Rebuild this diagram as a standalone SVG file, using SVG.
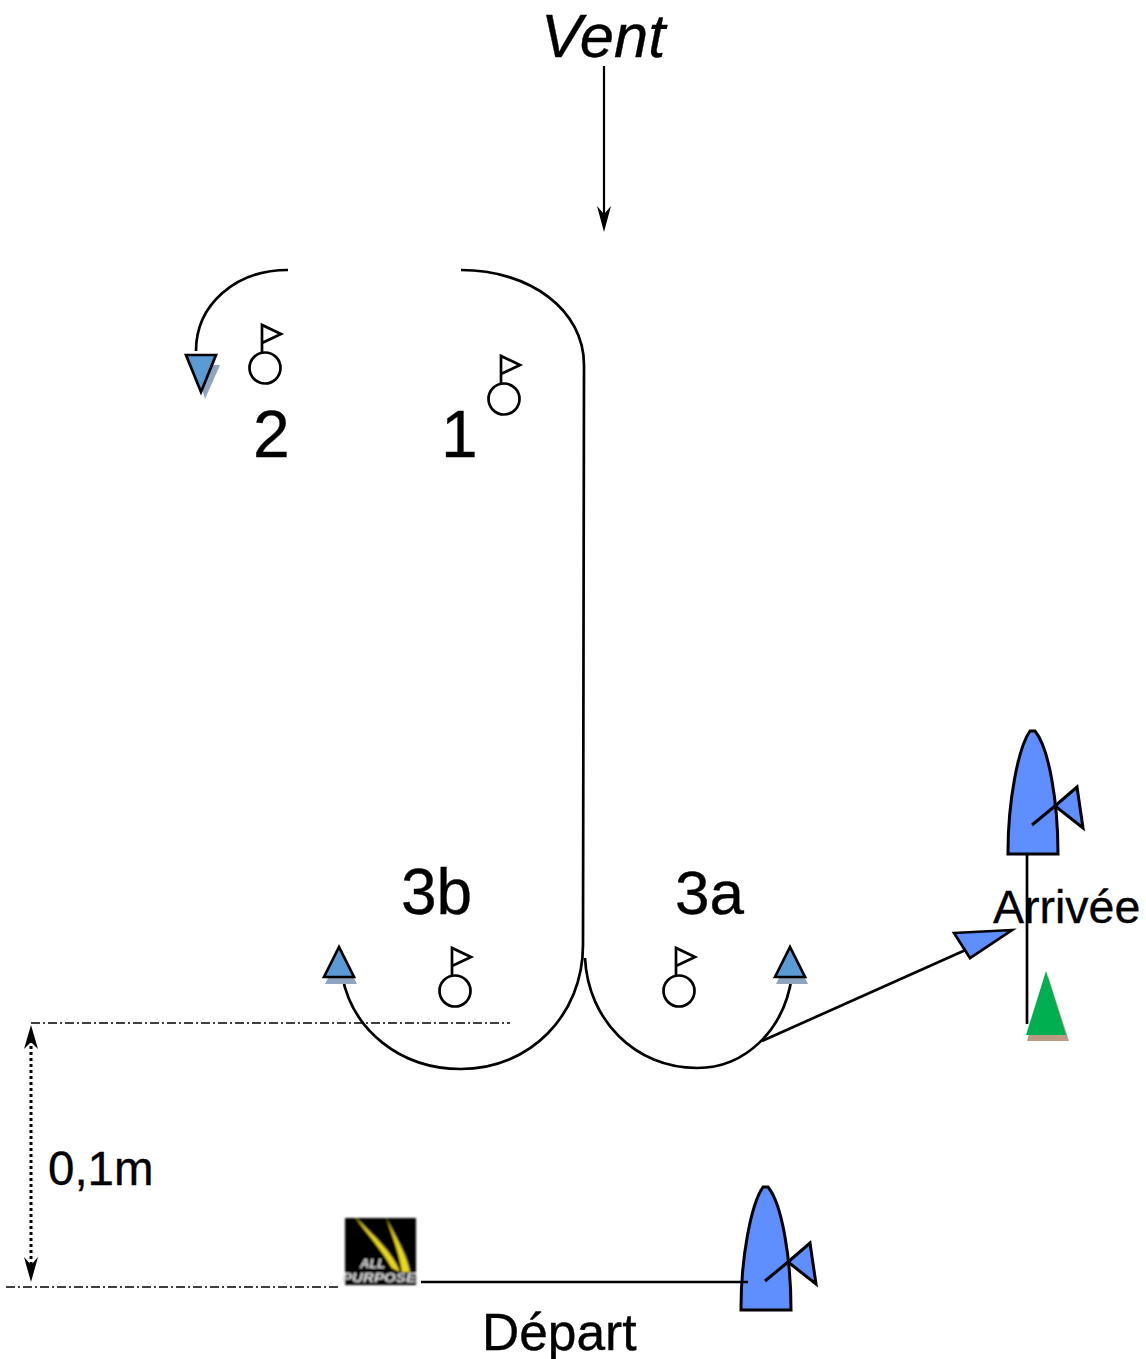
<svg xmlns="http://www.w3.org/2000/svg" width="1146" height="1359" viewBox="0 0 1146 1359">
<style>
text{font-family:"Liberation Sans",Arial,sans-serif;fill:#000;stroke:#000;stroke-width:.35}
.c{fill:none;stroke:#000;stroke-width:2.7}
.f{fill:#fff;stroke:#000;stroke-width:2.7}
.m{fill:#5b9bd5;stroke:#000;stroke-width:2.7}
.s{fill:#8ea4bf}
.b{fill:#5e8eff;stroke:#000;stroke-width:3}
.d{fill:none;stroke:#000;stroke-width:1.3;stroke-dasharray:9 3 2 3}
</style>
<defs>
<g id="flag"><circle cx="0" cy="0" r="15.5" class="f"/><path d="M-3 -15V-43L16 -34L-3 -25" class="f"/></g>
<g id="boat"><path d="M-25 62V60C-25 10 -15 -44 -3 -61H2C16 -44 25 10 25 62Z" class="b"/><path d="M22 14L44 -5L50 36Z" class="b"/><path d="M-1 33L22 14" class="c" style="stroke-width:3"/></g>
<filter id="bl" x="-15%" y="-15%" width="130%" height="130%"><feGaussianBlur stdDeviation="0.9"/></filter>
</defs>
<g id="finish-boat"><use href="#boat" x="1033" y="792"/></g>
<g id="start-boat"><use href="#boat" x="766" y="1248"/></g>
<g id="connectors">
<path class="c" d="M288 270C235 270 196 305 196 351"/>
<path class="c" d="M461 270C530 270 584 310 584 365L583 945C583 1015 530 1069 461 1069C400 1069 352 1030 342 975"/>
<path class="c" d="M585 958C588 1020 635 1068 697 1068C745 1068 785 1030 792 975"/>
<path class="c" d="M762 1041L970 948"/>
<path class="c" d="M1027 855V1024"/>
<path class="c" d="M421 1282H748"/>
<path d="M604 66V225" fill="none" stroke="#000" stroke-width="2.2"/>
<path d="M597 206L604 232L611 206L604 214Z" fill="#000"/>
<path class="d" d="M31 1023H510"/>
<path class="d" d="M6 1287H340"/>
<path d="M31 1040V1270" fill="none" stroke="#000" stroke-width="3" stroke-dasharray="3 3"/>
<path d="M24 1049L31 1025L38 1049L31 1042Z" fill="#000"/>
<path d="M24 1257L31 1282L38 1257L31 1265Z" fill="#000"/>
</g>
<g id="mark2"><use href="#flag" x="265" y="368"/><path class="s" d="M195 365H220L205 399Z"/><path class="m" d="M186 355H216L201 392Z"/><text x="253" y="457" font-size="66">2</text></g>
<g id="mark1"><use href="#flag" x="504" y="399"/><text x="441" y="457" font-size="66">1</text></g>
<g id="mark3b"><use href="#flag" x="455" y="991"/><path class="s" d="M325 984L332 970H350L357 984Z"/><path class="m" d="M324 977L339 947L354 977Z"/><text x="401" y="914" font-size="64">3b</text></g>
<g id="mark3a"><use href="#flag" x="679" y="991"/><path class="s" d="M776 984L783 970H801L808 984Z"/><path class="m" d="M775 977L790 947L805 977Z"/><text x="675" y="914" font-size="62">3a</text></g>
<g id="finish"><path class="b" d="M954 933L1012 930L970 958Z" style="stroke-width:2.7"/><path d="M1030 1030L1027 1041H1069L1048 976Z" fill="#bd9b83"/><path d="M1046 971L1066 1035H1026Z" fill="#00b050"/><text x="993" y="923" font-size="46.5">Arrivée</text></g>
<g id="logo"><g filter="url(#bl)"><rect x="345" y="1218" width="71" height="67" fill="#000"/><path d="M355 1217C376 1238 392 1252 400 1272L392 1268C382 1250 368 1235 355 1217Z" fill="#e8d820"/><path d="M386 1217C394 1235 406 1252 410 1272H402C400 1256 394 1240 386 1217Z" fill="#e8d820"/><text x="360" y="1268" font-size="13" font-weight="bold" font-style="italic" style="fill:#ddd;stroke:none">ALL</text><text x="342" y="1282" font-size="13" font-weight="bold" font-style="italic" style="fill:#ddd;stroke:none" textLength="74" lengthAdjust="spacingAndGlyphs">PURPOSE</text></g></g>
<g id="labels"><text x="541" y="57" font-size="61.5" font-style="italic">Vent</text><text x="48" y="1185" font-size="47.5">0,1m</text><text x="482" y="1350" font-size="51.5">Départ</text></g>
</svg>
